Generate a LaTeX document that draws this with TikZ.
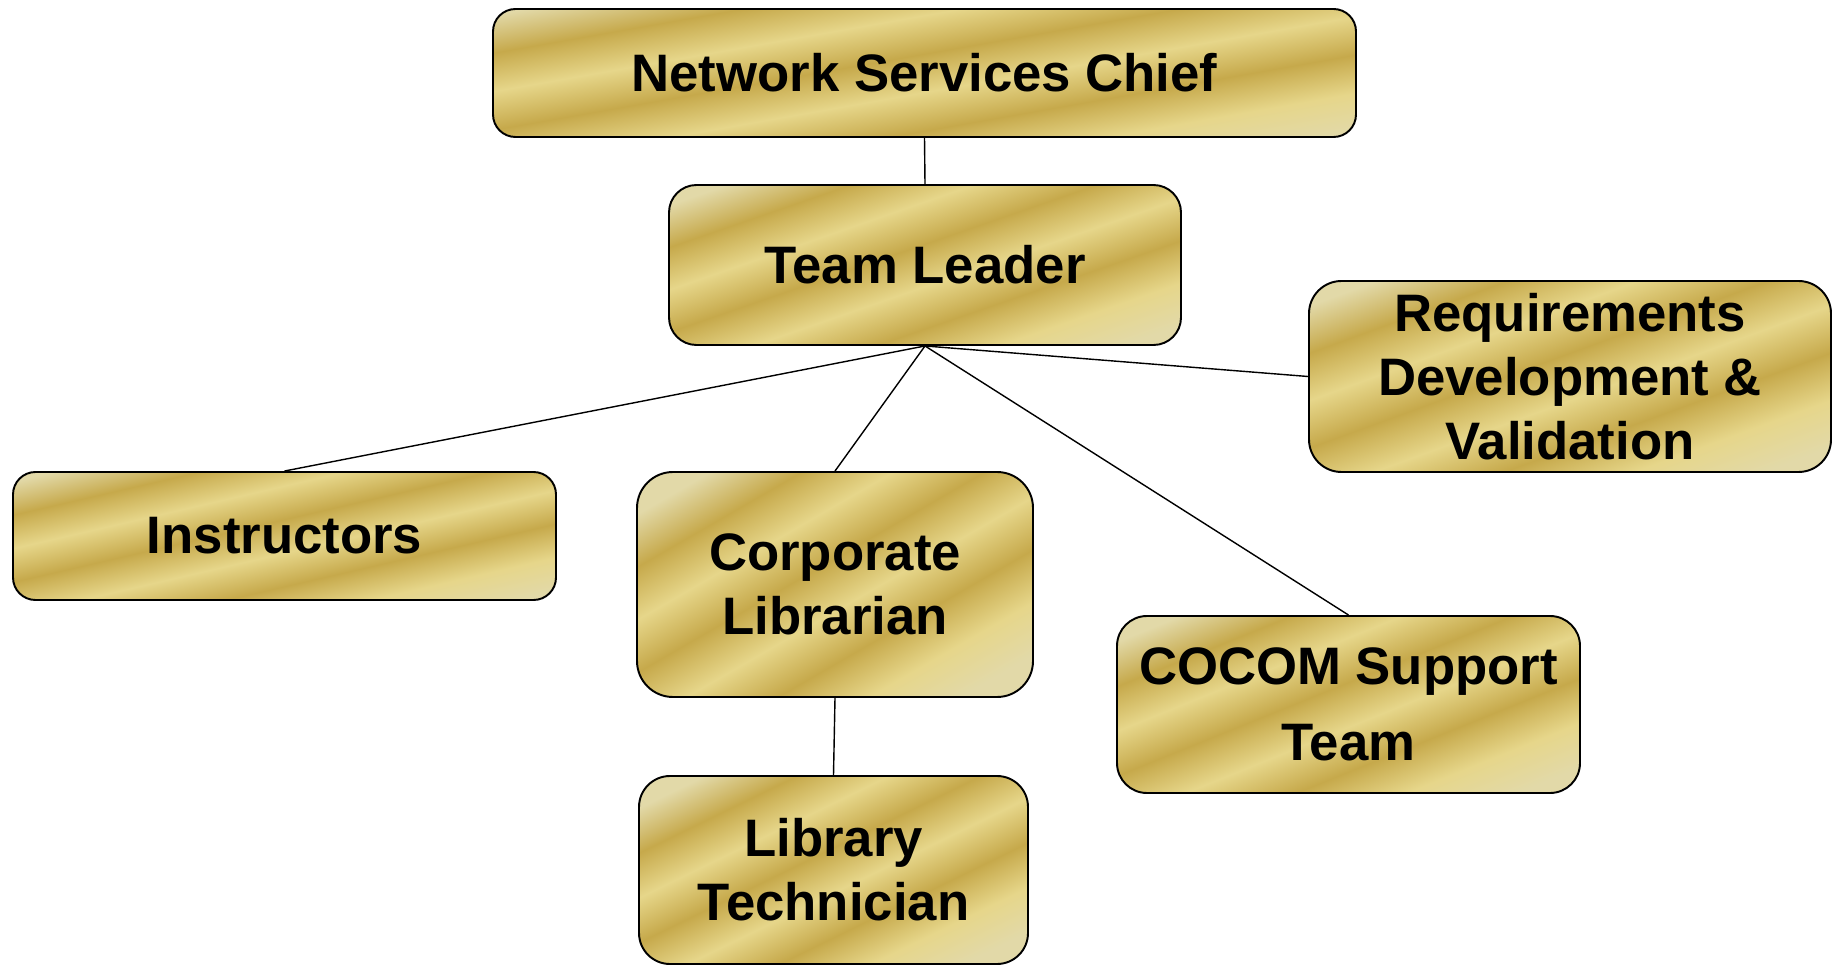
\documentclass[tikz,border=0pt]{standalone}
\usepackage{fontspec}
\setmainfont{Liberation Sans}
\usepackage{xcolor}

\definecolor{goldpale}{HTML}{E2D9A8}
\definecolor{goldlight}{HTML}{E6D68A}
\definecolor{golddark}{HTML}{C6A94B}

\pgfdeclareverticalshading{goldbands}{100bp}{color(0bp)=(goldpale); color(22bp)=(goldpale);
  color(30bp)=(goldlight); color(38bp)=(golddark); color(46bp)=(goldlight);
  color(54bp)=(golddark); color(62bp)=(goldlight); color(70bp)=(golddark);
  color(78bp)=(goldpale); color(100bp)=(goldpale)}

\tikzset{
  post/.style={draw, line width=1.1pt, rounded corners=0.45cm, shading=goldbands,
    shading angle=20, align=center, inner sep=0pt,
    font=\bfseries\fontsize{30}{36.5}\selectfont},
  link/.style={line width=0.8pt}
}

\begin{document}
\begin{tikzpicture}
	\useasboundingbox (0,0) rectangle (36.66,-19.32);
	\node[post, minimum width=17.26cm, minimum height=2.56cm, shading angle=10] (chief) at (18.49,-1.46) {Network Services Chief};
	\node[post, minimum width=10.24cm, minimum height=3.2cm, shading angle=19, rounded corners=0.55cm] (lead) at (18.5,-5.3) {Team Leader};
	\node[post, minimum width=10.44cm, minimum height=3.82cm, rounded corners=0.65cm] (reqs) at (31.4,-7.53) {Requirements\\Development \&\\Validation};
	\node[post, minimum width=10.86cm, minimum height=2.56cm, shading angle=13] (instr) at (5.69,-10.72) {Instructors};
	\node[post, minimum width=7.92cm, minimum height=4.5cm, shading angle=30, rounded corners=0.72cm] (corp) at (16.7,-11.69) {Corporate\\Librarian};
	\node[post, minimum width=9.26cm, minimum height=3.54cm, shading angle=22, rounded corners=0.6cm, font=\bfseries\fontsize{30}{43}\selectfont] (cocom) at (26.97,-14.09) {COCOM Support\\Team};
	\node[post, minimum width=7.78cm, minimum height=3.76cm, shading angle=26, rounded corners=0.62cm] (libtech) at (16.67,-17.4) {Library\\Technician};
	% lines
	\draw[link] (chief.south) -- (lead.north);
	\draw[link] (lead.south) -- (instr.north);
	\draw[link] (lead.south) -- (corp.north);
	\draw[link] (lead.south) -- (cocom.north);
	\draw[link] (lead.south) -- (reqs.west);
	\draw[link] (corp.south) -- (libtech.north);
\end{tikzpicture}
\end{document}
